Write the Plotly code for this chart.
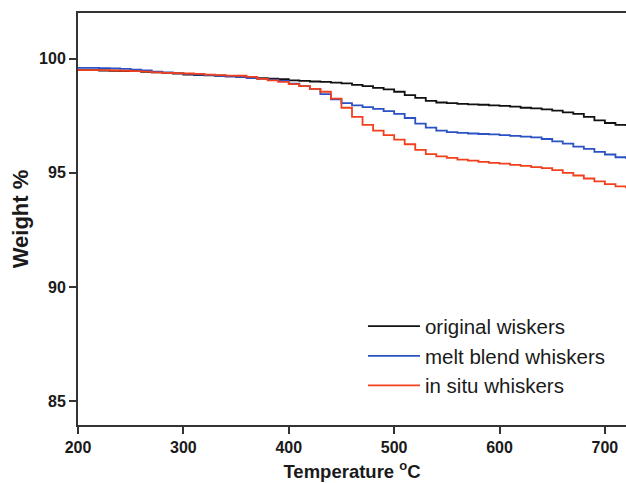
import plotly.graph_objects as go

temps = list(range(200, 730, 10))

original = [99.50, 99.50, 99.48, 99.47, 99.45, 99.45, 99.42, 99.40, 99.38, 99.35,
            99.30, 99.28, 99.27, 99.25, 99.22, 99.20, 99.18, 99.15, 99.12, 99.10,
            99.05, 99.03, 99.00, 98.98, 98.95, 98.92, 98.85, 98.80, 98.72, 98.65,
            98.55, 98.40, 98.28, 98.15, 98.08, 98.05, 98.02, 98.00, 97.98, 97.95,
            97.93, 97.90, 97.85, 97.82, 97.78, 97.72, 97.65, 97.58, 97.45, 97.30,
            97.18, 97.10, 97.05]

melt_blend = [99.60, 99.60, 99.58, 99.57, 99.55, 99.52, 99.48, 99.43, 99.40, 99.37,
              99.33, 99.30, 99.28, 99.25, 99.23, 99.20, 99.15, 99.12, 99.08, 99.02,
              98.90, 98.80, 98.68, 98.45, 98.22, 98.05, 97.95, 97.88, 97.80, 97.70,
              97.58, 97.40, 97.15, 96.98, 96.85, 96.78, 96.75, 96.72, 96.70, 96.68,
              96.65, 96.62, 96.58, 96.55, 96.48, 96.38, 96.28, 96.15, 96.05, 95.92,
              95.80, 95.68, 95.60]

in_situ = [99.50, 99.50, 99.50, 99.48, 99.47, 99.45, 99.43, 99.40, 99.38, 99.37,
           99.35, 99.33, 99.30, 99.28, 99.26, 99.25, 99.20, 99.12, 99.05, 98.98,
           98.88, 98.80, 98.68, 98.55, 98.25, 97.85, 97.45, 97.10, 96.85, 96.65,
           96.45, 96.25, 96.00, 95.82, 95.72, 95.65, 95.58, 95.53, 95.48, 95.43,
           95.40, 95.35, 95.30, 95.25, 95.20, 95.12, 95.00, 94.88, 94.75, 94.62,
           94.50, 94.40, 94.32]

series = [
    ("original wiskers", original, "#111111"),
    ("melt blend whiskers", melt_blend, "#2a52c4"),
    ("in situ whiskers", in_situ, "#f2401e"),
]

x_ticks = [200, 300, 400, 500, 600, 700]
y_ticks = [85, 90, 95, 100]

fig = go.Figure()
for name, vals, color in series:
    fig.add_trace(go.Scatter(x=temps, y=vals, mode="lines", name=name,
                             line=dict(color=color, width=1.8, shape="hv")))

fig.update_layout(
    width=626, height=483,
    margin=dict(l=78, r=0, t=13, b=58),
    paper_bgcolor="white", plot_bgcolor="white",
    font=dict(family="Liberation Sans, Arial, sans-serif", color="#1a1a1a"),
    showlegend=True,
    legend=dict(x=0.52, y=0.288, xanchor="left", yanchor="top",
                bgcolor="rgba(0,0,0,0)", font=dict(size=20.5, color="#1a1a1a"),
                itemwidth=52, tracegroupgap=0),
)
fig.update_xaxes(
    range=[200, 720], tickvals=x_ticks, ticks="outside", ticklen=7, tickwidth=1.5,
    tickcolor="#333", showline=True, linewidth=2, linecolor="#333", mirror=True,
    showgrid=False, zeroline=False,
    tickfont=dict(size=16, weight="bold"),
    title=dict(text="Temperature <sup>o</sup>C", font=dict(size=18.5, weight="bold"), standoff=10),
)
fig.update_yaxes(
    range=[83.95, 102.0], tickvals=y_ticks, ticks="outside", ticklen=7, tickwidth=1.5,
    tickcolor="#333", showline=True, linewidth=2, linecolor="#333",
    showgrid=False, zeroline=False,
    tickfont=dict(size=16, weight="bold"),
    title=dict(text="Weight %", font=dict(size=22, weight="bold"), standoff=4),
)

fig.write_html("out.html")
